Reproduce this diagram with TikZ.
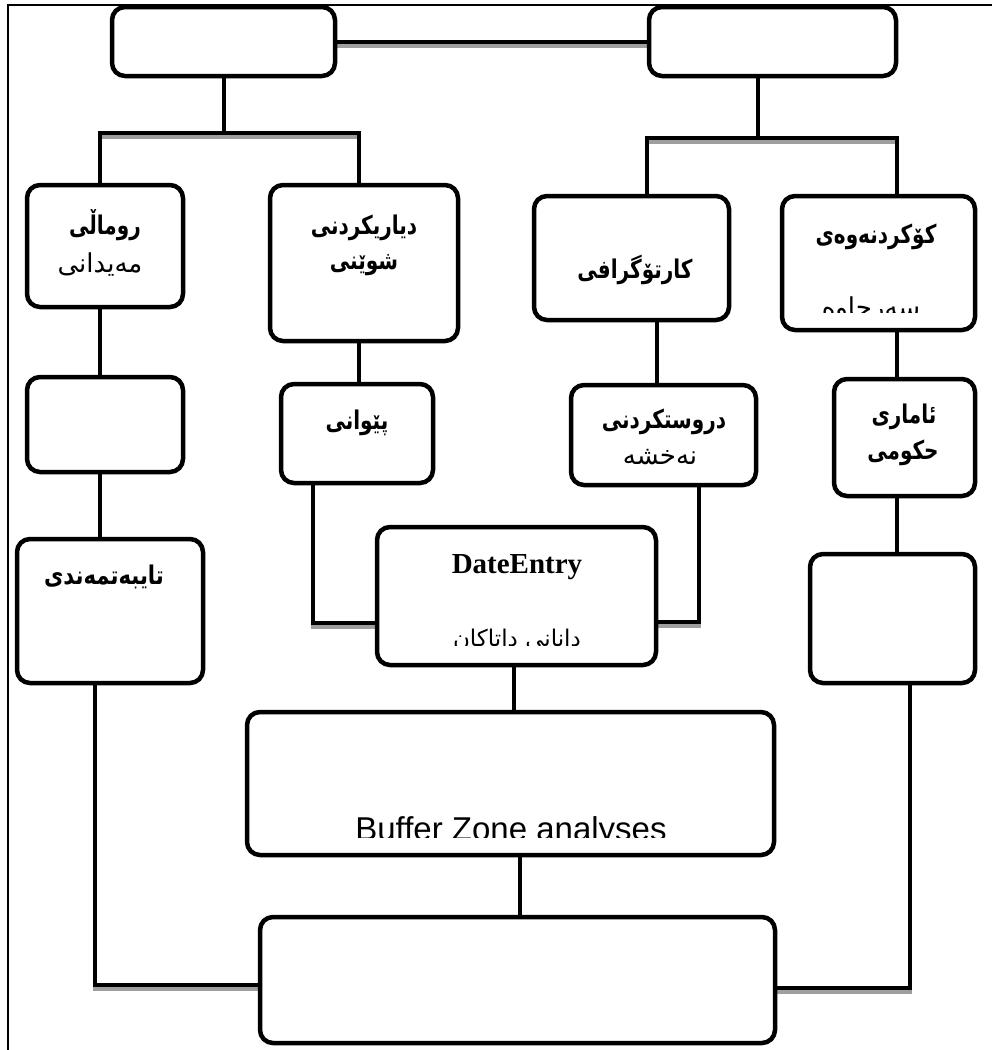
\documentclass[tikz,border=0pt]{standalone}
\usepackage{graphicx}
\usepackage{fontspec}
\setmainfont{Liberation Serif}
\newfontfamily\ku[Script=Arabic]{DejaVu Sans}
\newfontfamily\arialf{Liberation Sans}
\TeXXeTstate=1
\usetikzlibrary{backgrounds}
\tikzset{
 box/.style={draw, line width=4.5pt, rounded corners=13pt, fill=white, inner sep=0pt},
 conn/.style={line width=4pt},
 shad/.style={line width=4pt, draw=black!38, transform canvas={yshift=-4pt}},
 frameline/.style={line width=2.5pt},
 kb/.style={font=\ku\bfseries\fontsize{23}{27}\selectfont, inner sep=0pt},
 kr/.style={font=\ku\fontsize{26}{30}\selectfont, inner sep=0pt},
}
\newcommand\cn[1]{\draw[shad] #1; \draw[conn] #1;}
\newcommand\kbt[1]{\scalebox{0.87}[1.12]{\beginR #1\endR}}
\newcommand\krt[1]{\beginR #1\endR}
\begin{document}
\begin{tikzpicture}[x=1pt,y=-1pt]
\useasboundingbox (0,0) rectangle (992,1050);
% boxes
\node[box, minimum width=223pt, minimum height=69pt] (t1) at (223.5,41.5) {};
\node[box, minimum width=247pt, minimum height=69pt] (t2) at (772.5,41.5) {};
\node[box, minimum width=156pt, minimum height=122pt] (rum) at (105,246) {};
\node[box, minimum width=188pt, minimum height=156pt] (diy) at (364,263) {};
\node[box, minimum width=195pt, minimum height=124pt] (kar) at (631.5,258) {};
\node[box, minimum width=193pt, minimum height=134pt] (kok) at (878.5,263) {};
\node[box, minimum width=156pt, minimum height=95pt] (emp1) at (105,424.5) {};
\node[box, minimum width=152pt, minimum height=99pt] (piw) at (357,433.5) {};
\node[box, minimum width=185pt, minimum height=100pt] (dro) at (663.5,435) {};
\node[box, minimum width=141pt, minimum height=117pt] (amar) at (904.5,437.5) {};
\node[box, minimum width=186pt, minimum height=144pt] (tay) at (110,611) {};
\node[box, minimum width=279pt, minimum height=138pt] (date) at (516.5,596) {};
\node[box, minimum width=165pt, minimum height=129pt] (emp2) at (892.5,618.5) {};
\node[box, minimum width=527pt, minimum height=143pt] (buf) at (510.5,783.5) {};
\node[box, minimum width=515pt, minimum height=126pt] (bot) at (517.5,980) {};
% helper coordinates
\coordinate (b1l) at (100,133);
\coordinate (b1r) at (359,133);
\coordinate (b2l) at (647,138);
\coordinate (b2m) at (758,138);
\coordinate (b2r) at (897,138);
\coordinate (c3) at (657,350);
\coordinate (k1) at (313,623);
\coordinate (k2) at (699,622);
\coordinate (c5) at (514,690);
\coordinate (c6) at (520,890);
\coordinate (k3) at (95,985);
\coordinate (k4) at (910,988);
\begin{scope}[on background layer]
\draw[frameline] (992,5) -- (8,5) -- (8,1050);
\cn{(t1.east) -- (t2.west)}
\cn{(t1.south) -- (t1.south |- b1l)}
\cn{(b1l |- rum.north) -- (b1l) -- (b1r) -- (b1r |- diy.north)}
\cn{(b2m |- t2.south) -- (b2m)}
\cn{(b2l |- kar.north) -- (b2l) -- (b2r) -- (b2r |- kok.north)}
\cn{(b1l |- rum.south) -- (b1l |- emp1.north)}
\cn{(b1l |- emp1.south) -- (b1l |- tay.north)}
\cn{(b1r |- diy.south) -- (b1r |- piw.north)}
\cn{(c3 |- kar.south) -- (c3 |- dro.north)}
\cn{(b2r |- kok.south) -- (b2r |- amar.north)}
\cn{(b2r |- amar.south) -- (b2r |- emp2.north)}
\cn{(k1 |- piw.south) -- (k1) -- (k1 -| date.west)}
\cn{(k2 |- dro.south) -- (k2) -- (k2 -| date.east)}
\cn{(c5 |- date.south) -- (c5 |- buf.north)}
\cn{(c6 |- buf.south) -- (c6 |- bot.north)}
\cn{(k3 |- tay.south) -- (k3) -- (k3 -| bot.west)}
\cn{(k4 |- emp2.south) -- (k4) -- (k4 -| bot.east)}
\end{scope}
% labels
\node[kb] (l1a) at (105,225) {\kbt{روماڵی}};
\node[kr] (l1b) at (100,265) {\krt{مەیدانی}};
\node[kb] (l2a) at (364,228) {\kbt{دیاریکردنی}};
\node[kb] (l2b) at (364,265) {\kbt{شوێنی}};
\node[kb] (l3) at (635,270) {\kbt{کارتۆگرافی}};
\node[kb] (l4a) at (876,237) {\kbt{کۆکردنەوەی}};
\begin{scope}
\clip (790,290) rectangle (970,312);
\node[kr, anchor=base] (l4b) at (871,316) {\krt{سەرچاوە}};
\end{scope}
\node[kb] (l5) at (357,423) {\kbt{پێوانی}};
\node[kb] (l6a) at (664,422) {\kbt{دروستکردنی}};
\node[kr] (l6b) at (660,457) {\krt{نەخشە}};
\node[kb] (l7a) at (904,417) {\kbt{ئاماری}};
\node[kb] (l7b) at (903,453) {\kbt{حکومی}};
\node[kb] (l8) at (104,577) {\scalebox{0.92}[1.12]{\beginR تایبەتمەندی\endR}};
\node[font=\bfseries\fontsize{29}{33}\selectfont, inner sep=0pt] (l9a) at (517,567) {DateEntry};
\begin{scope}
\clip (380,600) rectangle (650,645);
\node[font=\ku\fontsize{23}{27}\selectfont, inner sep=0pt, anchor=base] (l9b) at (517,646) {\krt{دانانی داتاکان}};
\end{scope}
\begin{scope}
\clip (260,790) rectangle (760,837);
\node[font=\arialf\fontsize{33}{37}\selectfont, inner sep=0pt, anchor=base] (l10) at (511,840) {Buffer Zone analyses};
\end{scope}
\end{tikzpicture}
\end{document}
